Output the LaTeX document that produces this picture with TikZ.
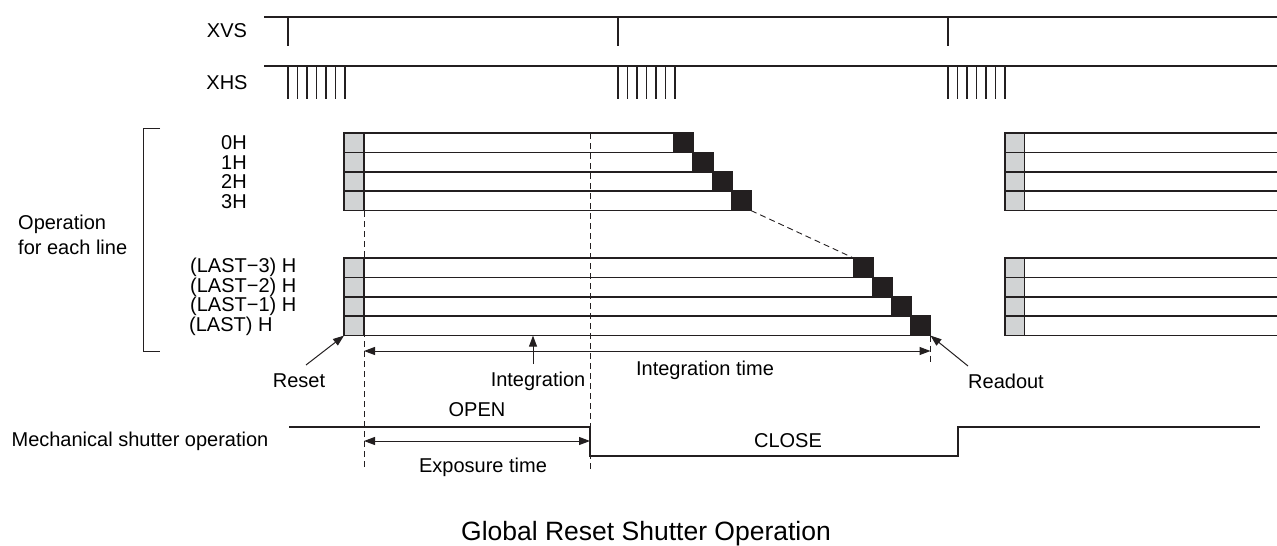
\documentclass[tikz,border=0pt]{standalone}
\usepackage{fontspec}
\setmainfont{Liberation Sans}
\usetikzlibrary{arrows.meta}
\definecolor{cellgray}{RGB}{209,211,212}
\definecolor{cellblack}{RGB}{35,31,32}

\begin{document}
\begin{tikzpicture}[x=1pt,y=-1pt,
  every node/.style={font=\fontsize{20}{25}\selectfont, inner sep=0pt},
  sig/.style={line width=1.8pt, cellblack},
  pulse/.style={line width=1.6pt, cellblack},
  cell/.style={draw=cellblack, line width=1.7pt, anchor=north west, minimum height=19.4pt, inner sep=0pt, outer sep=0pt},
  rowline/.style={line width=1.7pt, cellblack},
  guide/.style={line width=0.9pt, dash pattern=on 6pt off 4pt, cellblack},
  pointer/.style={line width=1pt, cellblack}]
\def\l{11pt}
\def\w{8pt}
\useasboundingbox (0,0) rectangle (1277,546);

% sync signals
\node [name=xvs] at (227,31) {XVS};
\node [name=xhs] at (227,83) {XHS};
\draw [sig] (264,17) -- (1277,17);
\draw [pulse] (288,17) -- (288,46);
\draw [pulse] (618,17) -- (618,46);
\draw [pulse] (948,17) -- (948,46);
\draw [sig] (264,66) -- (1277,66);
\draw [pulse] (288,66) -- (288,99) (297.5,66) -- (297.5,99) (307,66) -- (307,99) (316.5,66) -- (316.5,99) (326,66) -- (326,99) (335.5,66) -- (335.5,99) (345,66) -- (345,99);
\draw [pulse] (618,66) -- (618,99) (627.5,66) -- (627.5,99) (637,66) -- (637,99) (646.5,66) -- (646.5,99) (656,66) -- (656,99) (665.5,66) -- (665.5,99) (675,66) -- (675,99);
\draw [pulse] (948,66) -- (948,99) (957.5,66) -- (957.5,99) (967,66) -- (967,99) (976.5,66) -- (976.5,99) (986,66) -- (986,99) (995.5,66) -- (995.5,99) (1005,66) -- (1005,99);

% line labels
\draw [line width=1pt, cellblack] (160,128) -- (143,128) -- (143,351) -- (160,351);
\node [anchor=west, align=left, name=oper] at (18,234.5) {Operation\\for each line};
\node [anchor=west, name=l0] at (221,143) {0H};
\node [anchor=west, name=l1] at (221,162.4) {1H};
\node [anchor=west, name=l2] at (221,181.8) {2H};
\node [anchor=west, name=l3] at (221,201.2) {3H};
\node [anchor=west, name=l4] at (190,267.7) {(LAST−3) H};
\node [anchor=west, name=l5] at (190,287.1) {(LAST−2) H};
\node [anchor=west, name=l6] at (190,306.5) {(LAST−1) H};
\node [anchor=west, name=l7] at (189,325.9) {(LAST) H};

% first frame: reset, integration, readout
\node [cell, fill=cellgray, minimum width=20pt, name=g0] at (344,133) {};
\node [cell, fill=cellgray, minimum width=20pt, name=g1] at (344,152.4) {};
\node [cell, fill=cellgray, minimum width=20pt, name=g2] at (344,171.8) {};
\node [cell, fill=cellgray, minimum width=20pt, name=g3] at (344,191.2) {};
\node [cell, minimum width=310pt, name=r0] at (364,133) {};
\node [cell, minimum width=329.2pt, name=r1] at (364,152.4) {};
\node [cell, minimum width=348.4pt, name=r2] at (364,171.8) {};
\node [cell, minimum width=367.6pt, name=r3] at (364,191.2) {};
\node [cell, fill=cellblack, minimum width=19.5pt, name=k0] at (674,133) {};
\node [cell, fill=cellblack, minimum width=19.5pt, name=k1] at (693.2,152.4) {};
\node [cell, fill=cellblack, minimum width=19.5pt, name=k2] at (712.4,171.8) {};
\node [cell, fill=cellblack, minimum width=19.5pt, name=k3] at (731.6,191.2) {};

\node [cell, fill=cellgray, minimum width=20pt, name=g4] at (344,258) {};
\node [cell, fill=cellgray, minimum width=20pt, name=g5] at (344,277.4) {};
\node [cell, fill=cellgray, minimum width=20pt, name=g6] at (344,296.8) {};
\node [cell, fill=cellgray, minimum width=20pt, name=g7] at (344,316.2) {};
\node [cell, minimum width=489.5pt, name=r4] at (364,258) {};
\node [cell, minimum width=508.5pt, name=r5] at (364,277.4) {};
\node [cell, minimum width=527.5pt, name=r6] at (364,296.8) {};
\node [cell, minimum width=546.5pt, name=r7] at (364,316.2) {};
\node [cell, fill=cellblack, minimum width=20pt, name=k4] at (853.5,258) {};
\node [cell, fill=cellblack, minimum width=20pt, name=k5] at (872.5,277.4) {};
\node [cell, fill=cellblack, minimum width=20pt, name=k6] at (891.5,296.8) {};
\node [cell, fill=cellblack, minimum width=20pt, name=k7] at (910.5,316.2) {};
\draw [guide] (k3.south east) -- (k4.north west);

% next frame
\node [cell, fill=cellgray, minimum width=19.5pt, name=q0] at (1005,133) {};
\node [cell, fill=cellgray, minimum width=19.5pt, name=q1] at (1005,152.4) {};
\node [cell, fill=cellgray, minimum width=19.5pt, name=q2] at (1005,171.8) {};
\node [cell, fill=cellgray, minimum width=19.5pt, name=q3] at (1005,191.2) {};
\node [cell, fill=cellgray, minimum width=19.5pt, name=q4] at (1005,258) {};
\node [cell, fill=cellgray, minimum width=19.5pt, name=q5] at (1005,277.4) {};
\node [cell, fill=cellgray, minimum width=19.5pt, name=q6] at (1005,296.8) {};
\node [cell, fill=cellgray, minimum width=19.5pt, name=q7] at (1005,316.2) {};
\draw [rowline] (q0.north east) -- ++(253,0);
\draw [rowline] (q1.north east) -- ++(253,0);
\draw [rowline] (q2.north east) -- ++(253,0);
\draw [rowline] (q3.north east) -- ++(253,0);
\draw [rowline] (q3.south east) -- ++(253,0);
\draw [rowline] (q4.north east) -- ++(253,0);
\draw [rowline] (q5.north east) -- ++(253,0);
\draw [rowline] (q6.north east) -- ++(253,0);
\draw [rowline] (q7.north east) -- ++(253,0);
\draw [rowline] (q7.south east) -- ++(253,0);

% timing guides
\draw [guide] (364,211) -- (364,468);
\draw [guide] (590,133) -- (590,471);
\draw [guide] (k7.south east) -- (930.5,362);

% integration time
\coordinate (itl) at (364,351);
\coordinate (itr) at (930.5,351);
\draw [pointer, {Stealth[length=\l, width=\w, inset=0pt]}-{Stealth[length=\l, width=\w, inset=0pt]}] (itl) -- (itr);
\node [name=inttime] at (705,370) {Integration time};

% pointers
\node [name=reset] at (299,381) {Reset};
\node [name=integ] at (538,381) {Integration};
\node [name=readout] at (1006,381) {Readout};
\coordinate (resettail) at (306,365);
\coordinate (integtail) at (533,364);
\coordinate (readtail) at (968,366);
\draw [pointer, -{Stealth[length=\l, width=\w, inset=0pt]}] (resettail) -- (g7.south west);
\draw [pointer, -{Stealth[length=\l, width=\w, inset=0pt]}] (integtail) -- (integtail |- r7.south);
\draw [pointer, -{Stealth[length=\l, width=\w, inset=0pt]}] (readtail) -- (k7.south east);

% mechanical shutter
\node [name=mech] at (140,441) {Mechanical shutter operation};
\draw [sig] (289,427) -- (590,427) -- (590,456) -- (958,456) -- (958,427) -- (1260,427);
\node [name=open] at (477,410) {OPEN};
\node [name=close] at (788,441) {CLOSE};
\coordinate (exl) at (364,441);
\coordinate (exr) at (590,441);
\draw [pointer, {Stealth[length=\l, width=\w, inset=0pt]}-{Stealth[length=\l, width=\w, inset=0pt]}] (exl) -- (exr);
\node [name=expo] at (483,467) {Exposure time};

\node [font=\fontsize{26.5}{30}\selectfont, name=title] at (646,534) {Global Reset Shutter Operation};
\end{tikzpicture}
\end{document}
